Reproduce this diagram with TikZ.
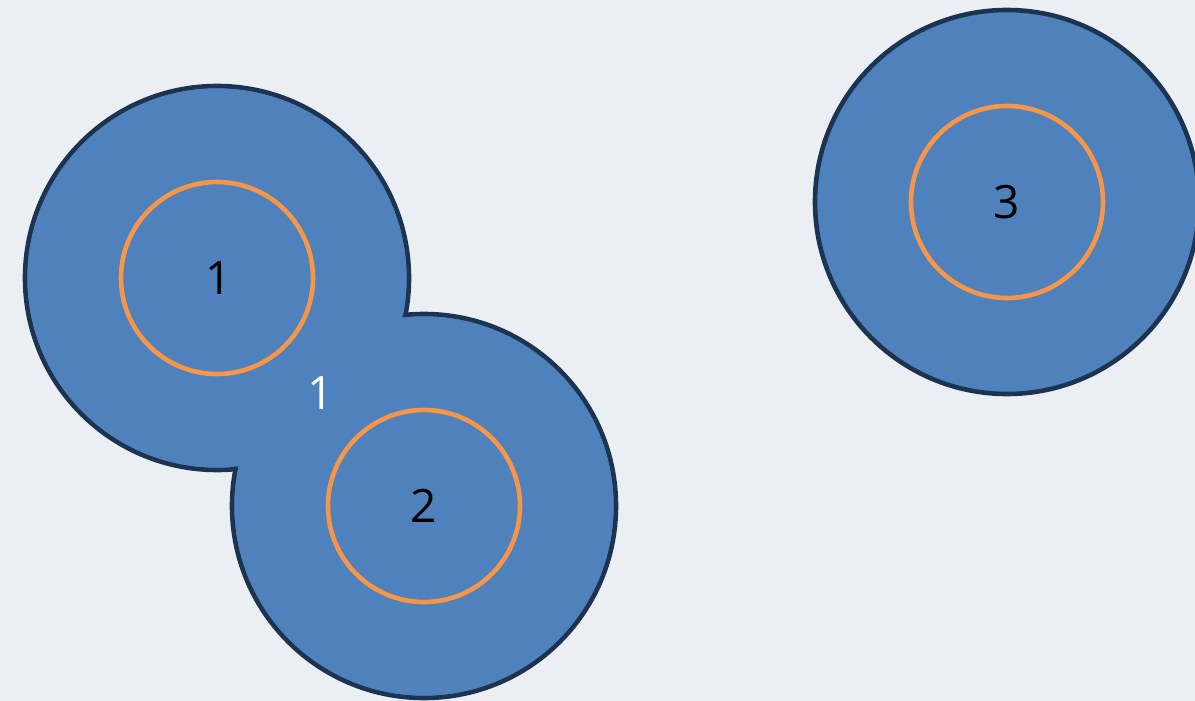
\documentclass[tikz,border=0pt]{standalone}
\usepackage{fontspec}
\setmainfont{Open Sans}
\definecolor{bg}{HTML}{EBEFF4}
\definecolor{blobfill}{HTML}{4F81BD}
\definecolor{blobline}{HTML}{1D3451}
\definecolor{ring}{HTML}{F79646}
\begin{document}
\begin{tikzpicture}[x=1pt,y=-1pt,
  outer/.style={circle,minimum size=384pt,inner sep=0pt,fill=blobfill,draw=blobline,line width=4.6pt},
  cover/.style={circle,minimum size=379pt,inner sep=0pt,fill=blobfill},
  inner/.style={circle,minimum size=192pt,inner sep=0pt,draw=ring,line width=4.6pt,font=\fontsize{46}{50}\selectfont},
  lbl/.style={font=\fontsize{46}{50}\selectfont,text=white,inner sep=0pt}]
\fill[bg] (0,0) rectangle (1195,701);
\useasboundingbox (0,0) rectangle (1195,701);
\node[outer] (o1) at (217,278) {};
\node[outer] (o2) at (424,506) {};
\node[cover] (c1) at (217,278) {};
\node[cover] (c2) at (424,506) {};
\node[outer] (o3) at (1007,202) {};
\node[inner] (i1) at (217,278) {\hspace{3pt}1};
\node[inner] (i2) at (424,506) {2};
\node[inner] (i3) at (1007,202) {3};
\node[lbl] (e12) at (321,393) {1};
\end{tikzpicture}
\end{document}
